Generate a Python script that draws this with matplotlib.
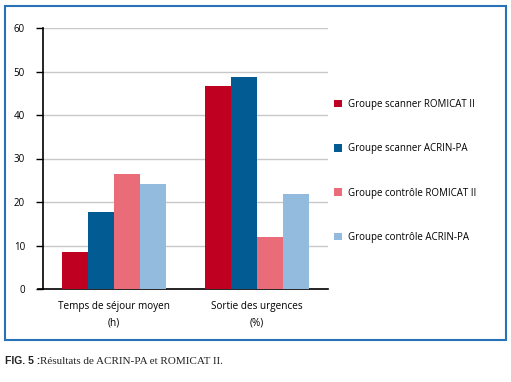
import numpy as np
import matplotlib
matplotlib.use("Agg")
import matplotlib.pyplot as plt
from matplotlib.patches import Rectangle

# données
categories = ["Temps de séjour moyen\n(h)", "Sortie des urgences\n(%)"]
series_names = ["Groupe scanner ROMICAT II", "Groupe scanner ACRIN-PA",
                "Groupe contrôle ROMICAT II", "Groupe contrôle ACRIN-PA"]
scanner_romicat = [8.6, 46.7]
scanner_acrin = [17.7, 48.8]
controle_romicat = [26.5, 12.0]
controle_acrin = [24.1, 21.8]
colors = ["#c00020", "#035b94", "#ea6c79", "#93bbdd"]
yticks = [0, 10, 20, 30, 40, 50, 60]

plt.rcParams['font.family'] = ['Open Sans', 'DejaVu Sans']

fig = plt.figure(figsize=(5.11, 3.82), dpi=100)
ax = fig.add_axes([43 / 511, 1 - 289 / 382, (328 - 43) / 511, (289 - 28) / 382])

x = np.arange(len(categories))
w = 0.183
data = [scanner_romicat, scanner_acrin, controle_romicat, controle_acrin]
for i, (vals, c, name) in enumerate(zip(data, colors, series_names)):
    ax.bar(x + (i - 1.5) * w, vals, w, color=c, label=name, zorder=3)

ax.set_xlim(-0.5, 1.5)
ax.set_ylim(0, 60)
ax.set_yticks(yticks)
ax.set_yticklabels([str(t) for t in yticks], fontsize=7)
ax.set_xticks(x)
ax.set_xticklabels(categories, fontsize=7.2, linespacing=1.6)
ax.tick_params(axis='x', length=0, pad=9)
ax.tick_params(axis='y', length=5, width=1, pad=8)
ax.yaxis.grid(True, color="#c8c8c8", lw=1, zorder=0)
for s in ["top", "right"]:
    ax.spines[s].set_visible(False)
ax.spines["left"].set_linewidth(1.2)
ax.spines["bottom"].set_linewidth(1.2)
# la ligne de base dépasse un peu à gauche
ax.plot([-0.535, -0.5], [0, 0], color="black", lw=1.2, clip_on=False, zorder=4)

fig.legend(loc="upper left", bbox_to_anchor=(334 / 511, 1 - 99 / 382), frameon=False,
           fontsize=7, handlelength=0.8, handleheight=0.8, handletextpad=0.6,
           labelspacing=3.42, borderpad=0, borderaxespad=0)

# cadre bleu
fig.patches.append(Rectangle((5 / 511, 1 - 340 / 382), 501 / 511, 334 / 382,
                             transform=fig.transFigure, fill=False,
                             edgecolor="#2a72b8", lw=1.5))

fig.text(5 / 511, 1 - 361 / 382, "FIG. 5 :", fontsize=7.5, fontweight="bold",
         color="#222222", family=["Liberation Sans", "DejaVu Sans"], va="center")
fig.text(40 / 511, 1 - 361 / 382, "Résultats de ACRIN-PA et ROMICAT II.", fontsize=8,
         color="#222222", family=["Liberation Serif", "DejaVu Serif"], va="center")

fig.savefig("out.png", dpi=100)
